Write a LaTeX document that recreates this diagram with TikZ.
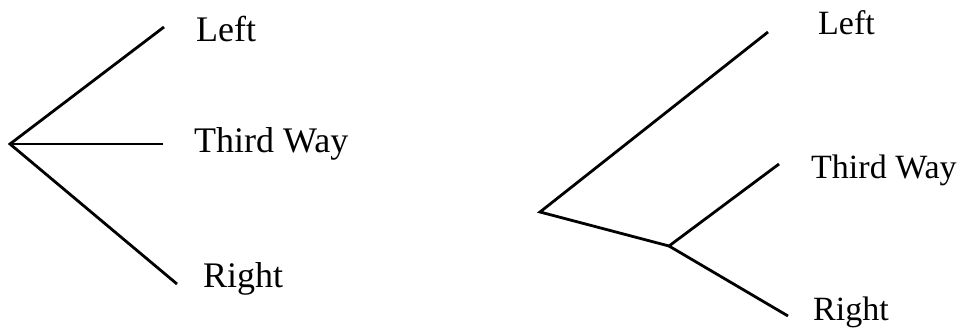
\documentclass[tikz,border=0pt]{standalone}
\usepackage{fontspec}
\setmainfont{Liberation Serif}
\begin{document}
\begin{tikzpicture}[x=1pt,y=-1pt,
  branch/.style={line width=2.8pt,line cap=butt,line join=miter},
  lbl/.style={anchor=base west,inner sep=0pt,font=\fontsize{36}{40}\selectfont},
  lblr/.style={lbl,font=\fontsize{34}{38}\selectfont}]
\useasboundingbox (0,0) rectangle (965,327);
% left tree
\coordinate (r1) at (10,144);
\coordinate (l1) at (164,27);
\coordinate (t1) at (163,144);
\coordinate (g1) at (177,284);
\draw[branch] (l1) -- (r1) -- (g1);
\draw[branch] (r1) -- (t1);
\node[lbl] (L1) at (196,41) {Left};
\node[lbl] (T1) at (194,152) {Third Way};
\node[lbl] (R1) at (203,287) {Right};
% right tree
\coordinate (r2) at (540,212);
\coordinate (l2) at (768,32);
\coordinate (m2) at (669,246);
\coordinate (t2) at (779,164);
\coordinate (g2) at (788,316);
\draw[branch] (l2) -- (r2) -- (m2);
\draw[branch] (t2) -- (m2) -- (g2);
\node[lblr] (L2) at (818,34) {Left};
\node[lblr] (T2) at (811,178) {Third Way};
\node[lblr] (R2) at (813,320) {Right};
\end{tikzpicture}
\end{document}
